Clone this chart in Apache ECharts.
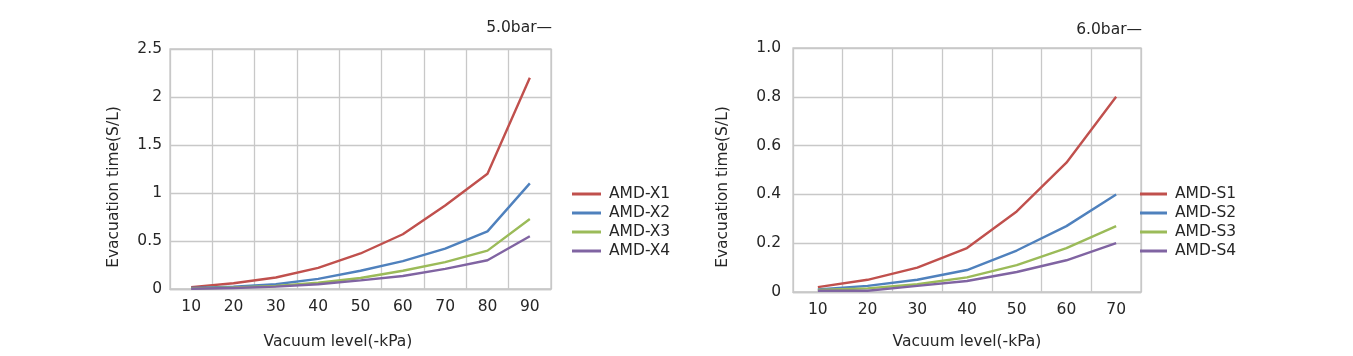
<!DOCTYPE html>
<html>
<head>
<meta charset="utf-8">
<script src="https://cdn.jsdelivr.net/npm/echarts@6/dist/echarts.min.js"></script>
<style>
html,body{margin:0;padding:0;background:#fff;}
#chart{width:1353px;height:356px;}
</style>
</head>
<body>
<div id="chart"></div>
<script>
// ---- data ----
const catsLeft = ['10','20','30','40','50','60','70','80','90'];
const catsRight = ['10','20','30','40','50','60','70'];
const yTicksLeft = ['0','0.5','1','1.5','2','2.5'];
const yTicksRight = ['0','0.2','0.4','0.6','0.8','1.0'];
const namesLeft = ['AMD-X1','AMD-X2','AMD-X3','AMD-X4'];
const namesRight = ['AMD-S1','AMD-S2','AMD-S3','AMD-S4'];
const X1 = [0.02, 0.06, 0.12, 0.22, 0.37, 0.57, 0.87, 1.2, 2.2];
const X2 = [0.01, 0.025, 0.05, 0.105, 0.19, 0.29, 0.42, 0.6, 1.1];
const X3 = [0.005, 0.015, 0.032, 0.065, 0.115, 0.19, 0.28, 0.4, 0.73];
const X4 = [0.003, 0.01, 0.025, 0.05, 0.09, 0.135, 0.21, 0.3, 0.55];
const S1 = [0.02, 0.05, 0.1, 0.18, 0.33, 0.53, 0.8];
const S2 = [0.01, 0.025, 0.05, 0.09, 0.17, 0.27, 0.4];
const S3 = [0.008, 0.015, 0.032, 0.06, 0.11, 0.18, 0.27];
const S4 = [0.005, 0.005, 0.025, 0.045, 0.082, 0.13, 0.2];
const titleLeft = '5.0bar—';
const titleRight = '6.0bar—';
const xName = 'Vacuum level(-kPa)';
const yName = 'Evacuation time(S/L)';

const colors = ['#c0504d', '#4f81bd', '#9bbb59', '#8064a2'];
const FONT = 'DejaVu Sans';
const TXT = '#262626';
const GRID = '#c8c8c8';
const NAMEFONT = '15.5px "DejaVu Sans"';

function xAx(idx, cats) {
  return {
    type: 'category', gridIndex: idx, data: cats, boundaryGap: true,
    axisLine: {show: true, lineStyle: {color: GRID, width: 1.3}},
    axisTick: {show: false},
    splitLine: {show: true, lineStyle: {color: GRID, width: 1.3}},
    axisLabel: {color: TXT, fontFamily: FONT, fontSize: 15.5, margin: 10, interval: 0}
  };
}
function yAx(idx, max, interval, ticks, margin) {
  return {
    type: 'value', gridIndex: idx, min: 0, max: max, interval: interval,
    axisLine: {show: false}, axisTick: {show: false},
    splitLine: {show: true, lineStyle: {color: GRID, width: 1.3}},
    axisLabel: {color: TXT, fontFamily: FONT, fontSize: 15.5, margin: margin,
      formatter: (v, i) => ticks[i]}
  };
}
function ser(name, data, ci, axis) {
  return {
    name: name, type: 'line', data: data, xAxisIndex: axis, yAxisIndex: axis,
    symbol: 'none', smooth: false, lineStyle: {width: 2.4, color: colors[ci]},
    itemStyle: {color: colors[ci]}, z: 3
  };
}

const chart = echarts.init(document.getElementById('chart'), null, {renderer: 'canvas'});
chart.setOption({
  animation: false,
  backgroundColor: '#ffffff',
  grid: [
    {left: 170, top: 49, width: 381, height: 240, show: true, borderColor: GRID, borderWidth: 1.3, backgroundColor: 'transparent'},
    {left: 793, top: 48, width: 348, height: 244, show: true, borderColor: GRID, borderWidth: 1.3, backgroundColor: 'transparent'}
  ],
  xAxis: [xAx(0, catsLeft), xAx(1, catsRight)],
  yAxis: [yAx(0, 2.5, 0.5, yTicksLeft, 8), yAx(1, 1.0, 0.2, yTicksRight, 12)],
  legend: [
    {data: namesLeft, left: 572, top: 186, padding: 0, orient: 'vertical', itemWidth: 29, itemHeight: 3, itemGap: 3,
     icon: 'rect', textStyle: {color: TXT, fontFamily: FONT, fontSize: 15.5, lineHeight: 15.5, padding: [0,0,0,3]}},
    {data: namesRight, left: 1140, top: 186, padding: 0, orient: 'vertical', itemWidth: 27, itemHeight: 3, itemGap: 3,
     icon: 'rect', textStyle: {color: TXT, fontFamily: FONT, fontSize: 15.5, lineHeight: 15.5, padding: [0,0,0,3]}}
  ],
  series: [
    ser(namesLeft[0], X1, 0, 0), ser(namesLeft[1], X2, 1, 0), ser(namesLeft[2], X3, 2, 0), ser(namesLeft[3], X4, 3, 0),
    ser(namesRight[0], S1, 0, 1), ser(namesRight[1], S2, 1, 1), ser(namesRight[2], S3, 2, 1), ser(namesRight[3], S4, 3, 1)
  ],
  graphic: [
    {type: 'text', x: 552, y: 28, style: {text: titleLeft, fill: TXT, font: NAMEFONT, align: 'right', verticalAlign: 'middle'}},
    {type: 'text', x: 1142, y: 30, style: {text: titleRight, fill: TXT, font: NAMEFONT, align: 'right', verticalAlign: 'middle'}},
    {type: 'text', x: 338, y: 342, style: {text: xName, fill: TXT, font: NAMEFONT, align: 'center', verticalAlign: 'middle'}},
    {type: 'text', x: 967, y: 342, style: {text: xName, fill: TXT, font: NAMEFONT, align: 'center', verticalAlign: 'middle'}},
    {type: 'text', x: 114, y: 187, rotation: Math.PI / 2, style: {text: yName, fill: TXT, font: NAMEFONT, align: 'center', verticalAlign: 'middle'}},
    {type: 'text', x: 723, y: 187, rotation: Math.PI / 2, style: {text: yName, fill: TXT, font: NAMEFONT, align: 'center', verticalAlign: 'middle'}}
  ]
});
</script>
</body>
</html>
